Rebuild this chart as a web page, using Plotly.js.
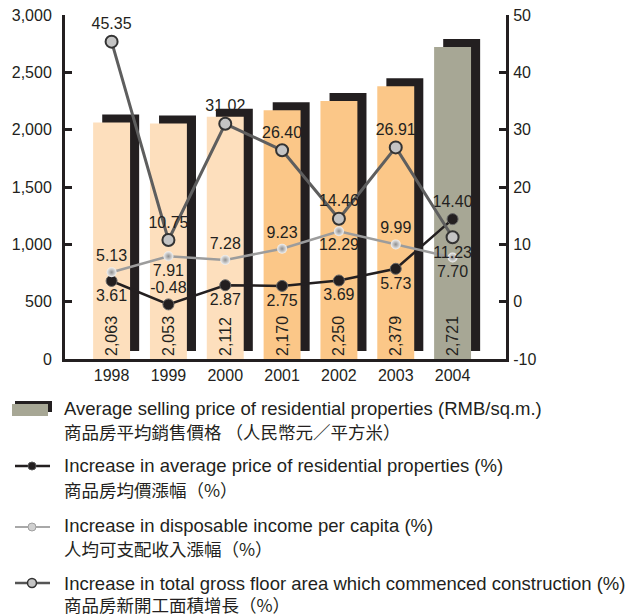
<!DOCTYPE html>
<html>
<head>
<meta charset="utf-8">
<script src="https://cdn.plot.ly/plotly-3.0.1.min.js"></script>
<style>html,body{margin:0;padding:0;background:#fff;}#chart{width:628px;height:616px;}</style>
</head>
<body>
<div id="chart"></div>
<script>
// ---- data ----
var years = ['1998', '1999', '2000', '2001', '2002', '2003', '2004'];
var avgPrice = [2063, 2053, 2112, 2170, 2250, 2379, 2721];           // RMB/sq.m.
var priceIncrease = [3.61, -0.48, 2.87, 2.75, 3.69, 5.73, 14.40];     // %
var incomeIncrease = [5.13, 7.91, 7.28, 9.23, 12.29, 9.99, 7.70];     // %
var floorIncrease = [45.35, 10.75, 31.02, 26.40, 14.46, 26.91, 11.23]; // %

var rightTickVals = [-10, 0, 10, 20, 30, 40, 50];
var rightTickText = ['-10', '0', '10', '20', '30', '40', '50'];

var priceLabelPos = ['bottom center', 'top center', 'bottom center', 'bottom center', 'bottom center', 'bottom center', 'top center'];
var incomeLabelPos = ['top center', 'bottom center', 'top center', 'top center', 'bottom center', 'top center', 'bottom center'];
var floorLabelPos = ['top center', 'top center', 'top center', 'top center', 'top center', 'top center', 'bottom center'];

var legendEn = [
  'Average selling price of residential properties (RMB/sq.m.)',
  'Increase in average price of residential properties (%)',
  'Increase in disposable income per capita (%)',
  'Increase in total gross floor area which commenced construction (%)'
];
var legendZh = [
  '商品房平均銷售價格 （人民幣元／平方米）',
  '商品房均價漲幅（%）',
  '人均可支配收入漲幅（%）',
  '商品房新開工面積增長（%）'
];

// ---- styling ----
var INK = '#231F20';
var barColors = ['#FDDFBD', '#FDDFBD', '#FDDFBD', '#FBC788', '#FBC788', '#FBC788', '#A7A795'];
var FONT = 'Liberation Sans, Arial, sans-serif';
var CJK = 'Noto Sans CJK TC, Noto Sans CJK SC, sans-serif';

var M = {l: 65, r: 122, t: 15, b: 257};
var W = 628, H = 616;
var PW = W - M.l - M.r, PH = H - M.t - M.b;
function px(X) { return (X - M.l) / PW; }
function py(Y) { return (H - M.b - Y) / PH; }

function fmt(v) { return v.toLocaleString('en-US'); }
function fmt2(v) { return v.toFixed(2); }

var traces = [
  { // shadow bars
    type: 'bar', x: years, y: avgPrice, base: 70,
    offset: -0.165, width: 0.65,
    marker: {color: INK, line: {width: 0}},
    hoverinfo: 'skip', showlegend: false
  },
  { // main bars
    type: 'bar', x: years, y: avgPrice,
    offset: -0.325, width: 0.65,
    marker: {color: barColors, line: {width: 0}},
    text: avgPrice.map(fmt), textposition: 'inside', insidetextanchor: 'start',
    textangle: -90, textfont: {family: FONT, size: 16, color: INK},
    constraintext: 'none', cliponaxis: false,
    showlegend: false
  },
  {
    type: 'scatter', mode: 'lines+markers+text', x: years, y: priceIncrease, yaxis: 'y2',
    line: {color: INK, width: 2.5},
    marker: {color: INK, size: 11, line: {color: '#666', width: 1}},
    text: priceIncrease.map(fmt2), textposition: priceLabelPos,
    textfont: {family: FONT, size: 16, color: INK},
    cliponaxis: false, showlegend: false
  },
  {
    type: 'scatter', mode: 'lines+markers+text', x: years, y: incomeIncrease, yaxis: 'y2',
    line: {color: '#9C9C9C', width: 2.5},
    marker: {color: '#F2F2F2', size: 10, gradient: {type: 'radial', color: '#8E8E8E'}, line: {width: 0}},
    text: incomeIncrease.map(fmt2), textposition: incomeLabelPos,
    textfont: {family: FONT, size: 16, color: INK},
    cliponaxis: false, showlegend: false
  },
  {
    type: 'scatter', mode: 'lines+markers+text', x: years, y: floorIncrease, yaxis: 'y2',
    line: {color: '#5E5E5E', width: 3},
    marker: {color: '#C4C4C4', size: 12, line: {color: '#333', width: 2}},
    text: floorIncrease.map(fmt2), textposition: floorLabelPos,
    textfont: {family: FONT, size: 16, color: INK},
    cliponaxis: false, showlegend: false
  }
];

// ---- legend (drawn as shapes + text) ----
var enY = [408, 466, 525, 583];
var zhY = [431, 489, 548, 604];
var annotations = [];
for (var i = 0; i < 4; i++) {
  annotations.push({xref: 'paper', yref: 'paper', x: px(62), y: py(enY[i]), xanchor: 'left', yanchor: 'middle',
    text: legendEn[i], showarrow: false, font: {family: FONT, size: 18.5, color: INK}});
  annotations.push({xref: 'paper', yref: 'paper', x: px(62), y: py(zhY[i]), xanchor: 'left', yanchor: 'middle',
    text: legendZh[i], showarrow: false, font: {family: CJK, size: 17.5, color: INK}});
}
function rect(x0, y0, x1, y1, color) {
  return {type: 'rect', xref: 'paper', yref: 'paper', x0: px(x0), x1: px(x1), y0: py(y1), y1: py(y0),
    fillcolor: color, line: {width: 0}, layer: 'above'};
}
function hline(x0, x1, y, color, w) {
  return {type: 'line', xref: 'paper', yref: 'paper', x0: px(x0), x1: px(x1), y0: py(y), y1: py(y),
    line: {color: color, width: w}, layer: 'above'};
}
function dot(cx, cy, r, fill, lc, lw) {
  return {type: 'circle', xref: 'paper', yref: 'paper', x0: px(cx - r), x1: px(cx + r), y0: py(cy + r), y1: py(cy - r),
    fillcolor: fill, line: {color: lc, width: lw}, layer: 'above'};
}
var shapes = [
  rect(15, 401, 52, 412, INK),
  rect(12, 404, 48, 416, '#A7A795'),
  hline(15, 50, 466, INK, 2.5),
  dot(32, 466, 4, INK, '#555', 1),
  hline(15, 50, 527, '#A8A8A8', 2),
  dot(32, 527, 4, '#D0D0D0', '#A0A0A0', 1),
  hline(15, 50, 583, '#555', 2.5),
  dot(32, 583, 4.5, '#C4C4C4', '#333', 1.5)
];

var axisCommon = {
  showgrid: false, zeroline: false, showline: true, linecolor: INK, linewidth: 3,
  ticks: 'inside', ticklen: 7, tickwidth: 3, tickcolor: INK,
  tickfont: {family: FONT, size: 16, color: INK}, fixedrange: true
};

var layout = {
  width: W, height: H,
  margin: M,
  paper_bgcolor: '#fff', plot_bgcolor: '#fff',
  showlegend: false,
  barmode: 'overlay',
  xaxis: {
    type: 'category', range: [-0.82, 6.94],
    showgrid: false, zeroline: false, showline: true, linecolor: INK, linewidth: 3,
    ticks: '', tickfont: {family: FONT, size: 16, color: INK}, fixedrange: true
  },
  yaxis: Object.assign({}, axisCommon, {range: [0, 3000], dtick: 500, tickformat: ',d', ticklabelstandoff: 7}),
  yaxis2: Object.assign({}, axisCommon, {range: [-10, 50], tickmode: 'array', tickvals: rightTickVals, ticktext: rightTickText,
    overlaying: 'y', side: 'right', ticklabelstandoff: 1}),
  annotations: annotations,
  shapes: shapes
};

Plotly.newPlot('chart', traces, layout, {displayModeBar: false, staticPlot: true});
</script>
</body>
</html>
